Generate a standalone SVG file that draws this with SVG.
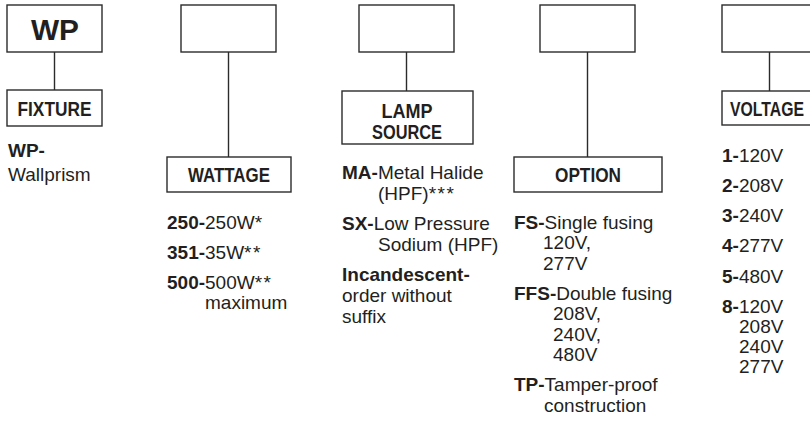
<svg xmlns="http://www.w3.org/2000/svg" width="810" height="425" viewBox="0 0 810 425">
<style>
.box{fill:#fff;stroke:#2b2b2b;stroke-width:1.4}
.ln{stroke:#2b2b2b;stroke-width:1.4;fill:none}
.hd{font-family:"Liberation Sans",Arial,sans-serif;font-weight:bold;font-size:21px;fill:#231f20;text-anchor:middle}
.big{font-family:"Liberation Sans",Arial,sans-serif;font-weight:bold;font-size:29px;fill:#231f20;text-anchor:middle}
.tx{font-family:"Liberation Sans",Arial,sans-serif;font-size:19px;fill:#231f20}
.b{font-weight:bold}
.ast{letter-spacing:1.5px}
</style>
<rect width="810" height="425" fill="#fff"/>
<g id="connectors">
<line class="ln" x1="54.5" y1="52" x2="54.5" y2="90"/>
<line class="ln" x1="228.5" y1="52" x2="228.5" y2="157"/>
<line class="ln" x1="406.5" y1="52" x2="406.5" y2="91"/>
<line class="ln" x1="587.5" y1="52" x2="587.5" y2="157"/>
<line class="ln" x1="769.5" y1="52" x2="769.5" y2="91"/>
</g>
<g id="fixture-code">
<rect class="box" x="7" y="5" width="95" height="47"/>
<text class="big" x="55" y="40" textLength="48" lengthAdjust="spacingAndGlyphs">WP</text>
</g>
<g id="fixture">
<rect class="box" x="7" y="90" width="95" height="36"/>
<text class="hd" x="54.5" y="116" textLength="74" lengthAdjust="spacingAndGlyphs">FIXTURE</text>
<text class="tx" x="8" y="157"><tspan class="b">WP-</tspan></text>
<text class="tx" x="8" y="181">Wallprism</text>
</g>
<g id="wattage-code">
<rect class="box" x="181" y="5" width="95" height="47"/>
</g>
<g id="wattage">
<rect class="box" x="167" y="157" width="124" height="35"/>
<text class="hd" x="229" y="182" textLength="82" lengthAdjust="spacingAndGlyphs">WATTAGE</text>
<text class="tx" x="167" y="229"><tspan class="b">250-</tspan>250W*</text>
<text class="tx" x="167" y="259"><tspan class="b">351-</tspan>35W<tspan class="ast">**</tspan></text>
<text class="tx" x="167" y="289"><tspan class="b">500-</tspan>500W<tspan class="ast">**</tspan></text>
<text class="tx" x="205" y="309">maximum</text>
</g>
<g id="lamp-code">
<rect class="box" x="359" y="5" width="95" height="47"/>
</g>
<g id="lamp-source">
<rect class="box" x="342" y="91" width="131" height="53"/>
<text class="hd" x="407" y="118" textLength="51" lengthAdjust="spacingAndGlyphs">LAMP</text>
<text class="hd" x="407" y="139" textLength="70" lengthAdjust="spacingAndGlyphs">SOURCE</text>
<text class="tx" x="342" y="179"><tspan class="b">MA-</tspan>Metal Halide</text>
<text class="tx" x="378" y="200">(HPF)<tspan class="ast">***</tspan></text>
<text class="tx" x="342" y="230"><tspan class="b">SX-</tspan>Low Pressure</text>
<text class="tx" x="378" y="251">Sodium (HPF)</text>
<text class="tx b" x="342" y="281">Incandescent-</text>
<text class="tx" x="342" y="302">order without</text>
<text class="tx" x="342" y="323">suffix</text>
</g>
<g id="option-code">
<rect class="box" x="540" y="5" width="95" height="47"/>
</g>
<g id="option">
<rect class="box" x="514" y="157" width="148" height="35"/>
<text class="hd" x="588" y="182" textLength="66" lengthAdjust="spacingAndGlyphs">OPTION</text>
<text class="tx" x="514" y="229"><tspan class="b">FS-</tspan>Single fusing</text>
<text class="tx" x="543" y="249">120V,</text>
<text class="tx" x="543" y="270">277V</text>
<text class="tx" x="514" y="300"><tspan class="b">FFS-</tspan>Double fusing</text>
<text class="tx" x="553" y="320">208V,</text>
<text class="tx" x="553" y="341">240V,</text>
<text class="tx" x="553" y="361">480V</text>
<text class="tx" x="514" y="391"><tspan class="b">TP-</tspan>Tamper-proof</text>
<text class="tx" x="544" y="412">construction</text>
</g>
<g id="voltage-code">
<rect class="box" x="722" y="5" width="95" height="47"/>
</g>
<g id="voltage">
<rect class="box" x="722" y="91" width="95" height="34"/>
<text class="hd" x="767" y="116" textLength="74" lengthAdjust="spacingAndGlyphs">VOLTAGE</text>
<text class="tx" x="722" y="162"><tspan class="b">1-</tspan>120V</text>
<text class="tx" x="722" y="192"><tspan class="b">2-</tspan>208V</text>
<text class="tx" x="722" y="222"><tspan class="b">3-</tspan>240V</text>
<text class="tx" x="722" y="252"><tspan class="b">4-</tspan>277V</text>
<text class="tx" x="722" y="283"><tspan class="b">5-</tspan>480V</text>
<text class="tx" x="722" y="313"><tspan class="b">8-</tspan>120V</text>
<text class="tx" x="739" y="333">208V</text>
<text class="tx" x="739" y="353">240V</text>
<text class="tx" x="739" y="373">277V</text>
</g>
</svg>
